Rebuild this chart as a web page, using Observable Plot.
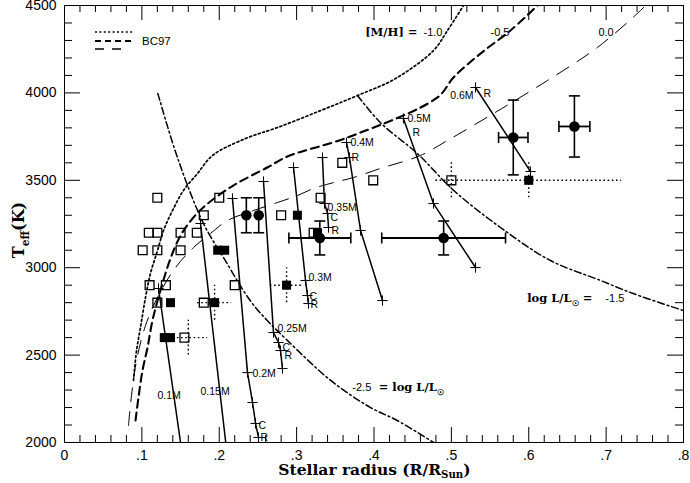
<!DOCTYPE html>
<html>
<head>
<meta charset="utf-8">
<script src="https://cdn.jsdelivr.net/npm/d3@7"></script>
<script src="https://cdn.jsdelivr.net/npm/@observablehq/plot@0.6"></script>
<style>
html,body{margin:0;padding:0;background:#fff;}
#chart svg{display:block;}
</style>
</head>
<body>
<div id="chart"></div>
<script>
// ---------- axis ticks ----------
const xTickValues = [0, 0.1, 0.2, 0.3, 0.4, 0.5, 0.6, 0.7, 0.8];
const xTickLabels = ["0", ".1", ".2", ".3", ".4", ".5", ".6", ".7", ".8"];
const yTickValues = [2000, 2500, 3000, 3500, 4000, 4500];
const yTickLabels = ["2000", "2500", "3000", "3500", "4000", "4500"];

// ---------- BC97 isochrones ([M/H] = -1.0, -0.5, 0.0) ----------
const mhMinus10R = [0.0892,0.0931,0.0982,0.1047,0.1111,0.1202,0.128,0.1396,0.1538,0.1719,0.1913,0.234,0.2753,0.331,0.3787,0.4278,0.477,0.495,0.5157];
const mhMinus10T = [2355,2526,2658,2830,2967,3098,3213,3327,3442,3539,3642,3739,3802,3899,3985,4082,4243,4357,4500];
const mhMinus05R = [0.0918,0.0956,0.1008,0.1073,0.1137,0.124,0.137,0.150,0.1654,0.1822,0.218,0.262,0.288,0.3658,0.482,0.5027,0.5376,0.5764,0.6113];
const mhMinus05T = [2126,2257,2412,2543,2698,2870,3053,3184,3281,3356,3470,3573,3636,3745,3974,4088,4225,4357,4500];
const mhZeroR = [0.0827,0.0866,0.0931,0.1047,0.1215,0.1435,0.1667,0.1887,0.2107,0.2443,0.2753,0.3011,0.3218,0.3477,0.3735,0.4084,0.460,0.495,0.5544,0.6242,0.6888,0.7444,0.7509];
const mhZeroT = [2097,2269,2469,2669,2841,3001,3115,3196,3270,3327,3373,3413,3453,3487,3516,3568,3642,3728,3882,4071,4260,4471,4500];

// ---------- iso-luminosity lines ----------
const lumM25R = [0.1206,0.146,0.1796,0.2055,0.240,0.262,0.288,0.344,0.3955,0.430,0.477];
const lumM25T = [3997,3630,3253,3058,2812,2698,2584,2355,2200,2126,2000];
const lumM15R = [0.3787,0.408,0.456,0.503,0.5635,0.628,0.6927,0.735,0.800];
const lumM15T = [3985,3831,3653,3442,3230,3041,2927,2852,2755];

// ---------- evolutionary tracks ----------
const trackNames = ["0.1M","0.15M","0.2M","0.25M","0.3M","0.35M","0.4M","0.5M","0.6M"];
const trackR = [
  [0.1215, 0.150],
  [0.1758, 0.2084],
  [0.2171, 0.2365, 0.243, 0.2469, 0.2507],
  [0.2572, 0.2701, 0.2766, 0.2792, 0.2817],
  [0.296, 0.3115, 0.314, 0.3153],
  [0.3334, 0.336, 0.340, 0.3412],
  [0.3645, 0.3683, 0.3826, 0.411],
  [0.438, 0.4769, 0.5312],
  [0.5312, 0.6023]
];
const trackT = [
  [2881, 2000],
  [3253, 2000],
  [3396, 2400, 2229, 2109, 2029],
  [3493, 2629, 2572, 2526, 2423],
  [3573, 2927, 2841, 2795],
  [3630, 3367, 3310, 3230],
  [3716, 3630, 3213, 2812],
  [3854, 3367, 3001],
  [4031, 3550]
];
const trackPlus = [[1,0],[1,0],[1,1,1,1,1],[1,1,1,1,1],[1,1,1,1],[1,1,1,1],[1,1,1,1],[1,1,1],[1,1]];

// track labels
const trackLabelText = ["0.1M","0.15M","0.2M","C","R","0.25M","C","R","0.3M","C","R","0.35M","C","R","0.4M","R","0.5M","R","R"];
const trackLabelR = [0.1202,0.1758,0.243,0.2506,0.2533,0.2753,0.2817,0.2843,0.3153,0.3166,0.318,0.340,0.3438,0.345,0.3696,0.371,0.4433,0.4498,0.5415];
const trackLabelT = [2269,2292,2395,2097,2029,2650,2545,2498,2944,2835,2787,3344,3287,3213,3716,3630,3854,3773,3997];
const trackLabelEndText = ["0.6M"];
const trackLabelEndR = [0.5286];
const trackLabelEndT = [3985];

// ---------- stars ----------
const openR = [0.120,0.200,0.331,0.180,0.280,0.109,0.120,0.150,0.171,0.322,0.101,0.120,0.150,0.110,0.131,0.220,0.120,0.180,0.155,0.359,0.399,0.500];
const openT = [3400,3400,3400,3300,3300,3200,3200,3200,3200,3200,3100,3100,3100,2900,2900,2900,2800,2800,2600,3600,3500,3500];
const filledR = [0.198,0.207,0.301,0.327,0.287,0.137,0.194,0.129,0.137,0.600];
const filledT = [3100,3100,3300,3200,2900,2800,2800,2600,2600,3500];

// dotted error bars
const dotErrR = [0.287,0.194,0.160,0.500,0.600];
const dotErrT = [2900,2800,2600,3500,3500];
const dotErrDR = [0.021,0.022,0.025,0,0.12];
const dotErrDT = [100,100,100,100,100];

// filled circles with error bars
const circR = [0.235,0.251,0.330,0.490,0.580,0.659];
const circT = [3300,3300,3170,3170,3745,3808];
const circDR = [0,0,0.040,0.080,0.019,0.020];
const circDT = [100,100,97,97,214,175];

// ---------- annotation texts ----------
const boldEndText = ["[M/H] ="]; const boldEndR = [0.4562]; const boldEndT = [4345];
const boldStartText = ["log L/L☉ =", "= log L/L☉"]; const boldStartR = [0.598, 0.406]; const boldStartT = [2824, 2315];
const plainText = ["-1.0","-0.5","0.0","-1.5","-2.5"];
const plainR = [0.464,0.5506,0.690,0.699,0.372];
const plainT = [4345,4345,4345,2824,2315];

// ---------- build ----------
const W = 690, H = 483, mL = 64, mR = 7, mT = 5, mB = 41;
const fw = W - mL - mR, fh = H - mT - mB;
const rows = (R, T) => R.map((r, i) => ({R: r, T: T[i]}));
const xMinor = d3.range(0, 41).filter(i => i % 5).map(i => i / 50);
const yMinor = d3.range(2000, 4501, 100).filter(v => v % 500);

const trackRows = trackNames.flatMap((m, k) => trackR[k].map((r, i) => ({mass: m, R: r, T: trackT[k][i], plus: trackPlus[k][i]})));
const dotErr = dotErrR.map((r, i) => ({R: r, T: dotErrT[i], dR: dotErrDR[i], dT: dotErrDT[i]}));
const circ = circR.map((r, i) => ({R: r, T: circT[i], dR: circDR[i], dT: circDT[i]}));
const circX = circ.filter(d => d.dR > 0);
const capH = {draw(ctx){ ctx.moveTo(-5.5, 0); ctx.lineTo(5.5, 0); }};
const capV = {draw(ctx){ ctx.moveTo(0, -5.5); ctx.lineTo(0, 5.5); }};
const labelFont = "'Liberation Sans', Arial, sans-serif";
const serif = "'DejaVu Serif', serif";

const chart = Plot.plot({
  width: W, height: H,
  marginLeft: mL, marginRight: mR, marginTop: mT, marginBottom: mB,
  x: {domain: [0, 0.8], label: null},
  y: {domain: [2000, 4500], label: null},
  style: {fontFamily: labelFont, fontSize: "14px", background: "white", color: "black"},
  marks: [
    // isochrones
    Plot.line(rows(mhMinus10R, mhMinus10T), {x: "R", y: "T", curve: "catmull-rom", stroke: "black", strokeWidth: 1.7, strokeDasharray: "2,2.6", clip: true}),
    Plot.line(rows(mhMinus05R, mhMinus05T), {x: "R", y: "T", curve: "catmull-rom", stroke: "black", strokeWidth: 2.1, strokeDasharray: "8,5", clip: true}),
    Plot.line(rows(mhZeroR, mhZeroT), {x: "R", y: "T", curve: "catmull-rom", stroke: "black", strokeWidth: 1, strokeDasharray: "14,10", clip: true}),
    // iso-luminosity
    Plot.line(rows(lumM25R, lumM25T), {x: "R", y: "T", curve: "catmull-rom", stroke: "black", strokeWidth: 1.5, strokeDasharray: "7,3,1.8,3", clip: true}),
    Plot.line(rows(lumM15R, lumM15T), {x: "R", y: "T", curve: "catmull-rom", stroke: "black", strokeWidth: 1.5, strokeDasharray: "7,3,1.8,3", clip: true}),
    // tracks
    Plot.line(trackRows, {x: "R", y: "T", z: "mass", stroke: "black", strokeWidth: 1.5, clip: true}),
    Plot.dot(trackRows.filter(d => d.plus), {x: "R", y: "T", symbol: "plus", r: 3.4, stroke: "black", strokeWidth: 1}),
    // dotted error bars
    Plot.ruleY(dotErr.filter(d => d.dR > 0), {y: "T", x1: d => d.R - d.dR, x2: d => d.R + d.dR, stroke: "black", strokeWidth: 1.4, strokeDasharray: "1.6,2.6"}),
    Plot.ruleX(dotErr, {x: "R", y1: d => d.T - d.dT, y2: d => d.T + d.dT, stroke: "black", strokeWidth: 1.4, strokeDasharray: "1.6,2.6"}),
    // solid error bars
    Plot.ruleX(circ, {x: "R", y1: d => d.T - d.dT, y2: d => d.T + d.dT, stroke: "black", strokeWidth: 1.6}),
    Plot.ruleY(circX, {y: "T", x1: d => d.R - d.dR, x2: d => d.R + d.dR, stroke: "black", strokeWidth: 1.8}),
    Plot.dot(circ, {x: "R", y: d => d.T + d.dT, symbol: capH, fill: "none", stroke: "black", strokeWidth: 1.6}),
    Plot.dot(circ, {x: "R", y: d => d.T - d.dT, symbol: capH, fill: "none", stroke: "black", strokeWidth: 1.6}),
    Plot.dot(circX, {x: d => d.R - d.dR, y: "T", symbol: capV, fill: "none", stroke: "black", strokeWidth: 1.6}),
    Plot.dot(circX, {x: d => d.R + d.dR, y: "T", symbol: capV, fill: "none", stroke: "black", strokeWidth: 1.6}),
    // stars
    Plot.dot(rows(openR, openT), {x: "R", y: "T", symbol: "square", r: 5, fill: "none", stroke: "black", strokeWidth: 1.3}),
    Plot.dot(rows(filledR, filledT), {x: "R", y: "T", symbol: "square", r: 5.1, fill: "black", stroke: "none"}),
    Plot.dot(circ, {x: "R", y: "T", r: 5.3, fill: "black"}),
    // labels
    Plot.text(trackLabelText, {x: (d, i) => trackLabelR[i], y: (d, i) => trackLabelT[i], text: d => d, textAnchor: "start", fontSize: 10.5, fontFamily: labelFont}),
    Plot.text(trackLabelEndText, {x: (d, i) => trackLabelEndR[i], y: (d, i) => trackLabelEndT[i], text: d => d, textAnchor: "end", fontSize: 10.5, fontFamily: labelFont}),
    Plot.text(boldEndText, {x: (d, i) => boldEndR[i], y: (d, i) => boldEndT[i], text: d => d, textAnchor: "end", fontSize: 11.5, fontWeight: "bold", fontFamily: serif}),
    Plot.text(boldStartText, {x: (d, i) => boldStartR[i], y: (d, i) => boldStartT[i], text: d => d, textAnchor: "start", fontSize: 11.5, fontWeight: "bold", fontFamily: serif}),
    Plot.text(plainText, {x: (d, i) => plainR[i], y: (d, i) => plainT[i], text: d => d, textAnchor: "start", fontSize: 11, fontFamily: labelFont}),
    // ticks (inward, all four sides)
    Plot.ruleX(xMinor, {insetTop: fh - 7, stroke: "black"}),
    Plot.ruleX(xMinor, {insetBottom: fh - 7, stroke: "black"}),
    Plot.ruleX(xTickValues, {insetTop: fh - 15, stroke: "black"}),
    Plot.ruleX(xTickValues, {insetBottom: fh - 15, stroke: "black"}),
    Plot.ruleY(yMinor, {insetRight: fw - 8, stroke: "black"}),
    Plot.ruleY(yMinor, {insetLeft: fw - 8, stroke: "black"}),
    Plot.ruleY(yTickValues, {insetRight: fw - 16, stroke: "black"}),
    Plot.ruleY(yTickValues, {insetLeft: fw - 16, stroke: "black"}),
    Plot.frame({stroke: "black", strokeWidth: 1}),
    Plot.axisX({ticks: xTickValues, tickSize: 0, tickPadding: 8, tickFormat: d => xTickLabels[xTickValues.indexOf(d)], label: null}),
    Plot.axisY({ticks: yTickValues, tickSize: 0, tickPadding: 8, tickFormat: d => yTickLabels[yTickValues.indexOf(d)], label: null})
  ]
});

document.getElementById("chart").append(chart);

// ---------- post-processing: subscripts, titles, legend ----------
const svg = d3.select(chart);
function setParts(sel, parts, fs, shift = 0.3) {
  sel.text(null);
  let shifted = false;
  parts.forEach(([s, sub]) => {
    const ts = sel.append("tspan").text(s);
    if (sub) {
      ts.attr("font-size", fs * 0.66);
      if (!shifted) { ts.attr("dy", fs * shift); shifted = true; }
    } else if (shifted) { ts.attr("dy", -fs * shift); shifted = false; }
  });
}
svg.selectAll("text").each(function() {
  const t = this.textContent;
  if (t === "log L/L☉ =") setParts(d3.select(this), [["log L/L"], ["☉", true], [" ="]], 11.5);
  if (t === "= log L/L☉") setParts(d3.select(this), [["= log L/L"], ["☉", true]], 11.5);
});

// axis titles
const xt = svg.append("text")
  .attr("x", mL + fw / 2 + 1).attr("y", 475)
  .attr("text-anchor", "middle")
  .attr("font-family", serif).attr("font-weight", "bold").attr("font-size", 15.5)
  .attr("fill", "black");
setParts(xt, [["Stellar radius (R/R"], ["Sun", true], [")"]], 15.5, 0.22);

const yt = svg.append("text")
  .attr("transform", "translate(24,230) rotate(-90)")
  .attr("text-anchor", "middle")
  .attr("font-family", serif).attr("font-weight", "bold").attr("font-size", 16)
  .attr("fill", "black");
setParts(yt, [["T"], ["eff", true], ["(K)"]], 16);

// legend (top-left)
const lg = svg.append("g").attr("stroke", "black").attr("fill", "none");
lg.append("line").attr("x1", 95).attr("x2", 133).attr("y1", 32).attr("y2", 32).attr("stroke-width", 1.5).attr("stroke-dasharray", "2,2.4");
lg.append("line").attr("x1", 95).attr("x2", 134).attr("y1", 41).attr("y2", 41).attr("stroke-width", 1.8).attr("stroke-dasharray", "6,4");
lg.append("line").attr("x1", 95).attr("x2", 126).attr("y1", 49).attr("y2", 49).attr("stroke-width", 1.4).attr("stroke-dasharray", "9,8");
svg.append("text").attr("x", 142).attr("y", 45).attr("text-anchor", "start")
  .attr("font-family", labelFont).attr("font-size", 11.5).attr("fill", "black").text("BC97");
</script>
</body>
</html>
